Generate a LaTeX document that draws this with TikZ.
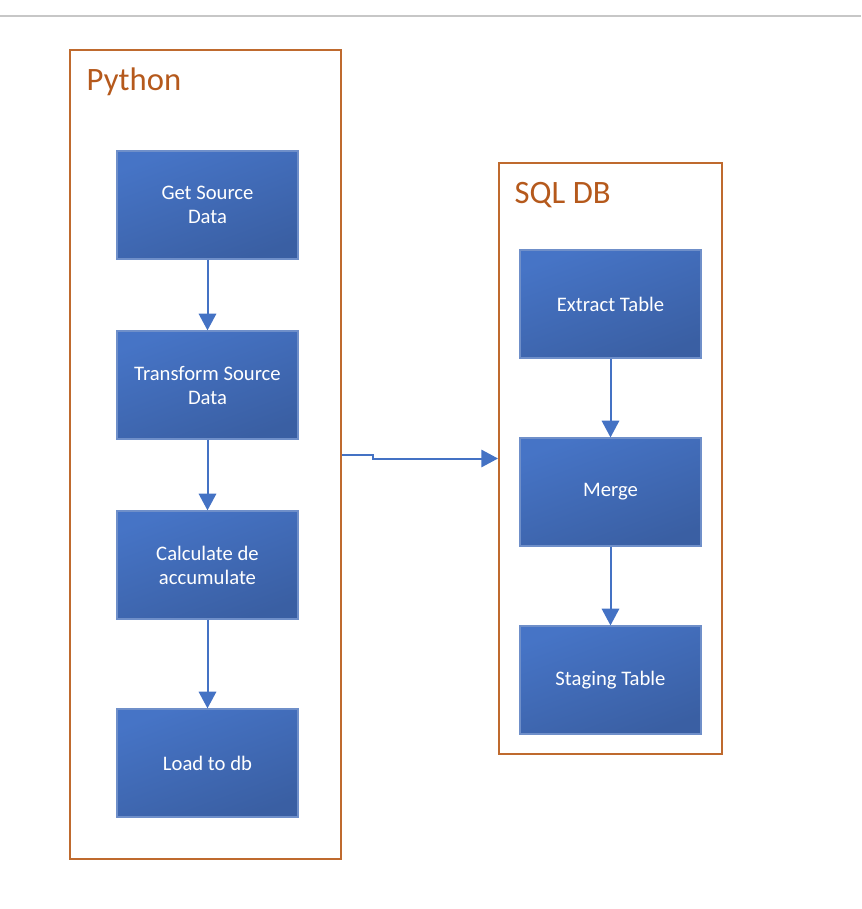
\documentclass[tikz,border=0pt]{standalone}
\usepackage{fontspec}
\setmainfont{Carlito}
\usetikzlibrary{arrows.meta}

\definecolor{frameorange}{HTML}{BF6A2E}
\definecolor{titleorange}{HTML}{B5591C}
\definecolor{boxlight}{HTML}{4674C6}
\definecolor{boxdark}{HTML}{3A5FA3}
\definecolor{boxedge}{HTML}{6F8FC9}
\definecolor{linkblue}{HTML}{4472C4}

\tikzset{
	frame/.style={draw=frameorange, line width=1.5pt, minimum width=271*0.75pt},
	task/.style={draw=boxedge, line width=0.9pt, top color=boxlight, bottom color=boxdark, shading angle=20,
		text=white, align=center, font=\fontsize{15.5}{18}\selectfont,
		minimum width=181*0.75pt, minimum height=108*0.75pt, inner sep=0pt},
	link/.style={draw=linkblue, line width=1.5pt, -{Triangle[length=12.5pt, width=13pt]}}
}

\begin{document}
\begin{tikzpicture}[x=0.75pt, y=-0.75pt]
	\useasboundingbox (0,0) rectangle (861,909);
	\draw [color=black!22, line width=0.9pt] (0,16) -- (861,16);
	
	% frames
	\node [frame, minimum width=271*0.75pt, minimum height=809*0.75pt] (python) at (205.5,454.5) {};
	\node [frame, minimum width=223*0.75pt, minimum height=591*0.75pt] (sqldb) at (610.5,458.5) {};
	\node [anchor=west, text=titleorange, font=\fontsize{24.5}{28}\selectfont] (pytitle) at (82,82) {Python};
	\node [anchor=west, text=titleorange, font=\fontsize{24.5}{28}\selectfont] (sqltitle) at (510,195) {SQL DB};
	
	% python steps
	\node [task] (getsrc)  at (207.5,205)   {Get Source\\Data};
	\node [task] (transf)  at (207.5,385)   {Transform Source\\Data};
	\node [task] (calc)    at (207.5,565)   {Calculate de\\accumulate};
	\node [task] (load)    at (207.5,763)   {Load to db};
	
	% sql steps
	\node [task] (extract) at (610.5,304)   {Extract Table};
	\node [task] (merge)   at (610.5,492)   {Merge};
	\node [task] (staging) at (610.5,680)   {Staging Table};
	
	\draw [link] (getsrc)  -- (transf);
	\draw [link] (transf)  -- (calc);
	\draw [link] (calc)    -- (load);
	\draw [link] (extract) -- (merge);
	\draw [link] (merge)   -- (staging);
	
	\draw [link] (python.east) -- ++(31,0) |- (sqldb.west);
\end{tikzpicture}
\end{document}
